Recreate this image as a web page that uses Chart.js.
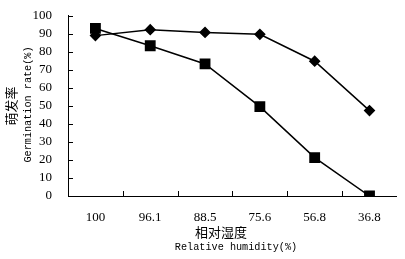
<!DOCTYPE html>
<html>
<head>
<meta charset="utf-8">
<script src="https://cdn.jsdelivr.net/npm/chart.js@4"></script>
<style>
  html, body { margin: 0; padding: 0; background: #fff; }
  #wrap { width: 405px; height: 259px; }
</style>
</head>
<body>
<div id="wrap"><canvas id="germination"></canvas></div>
<script>
const humidity = ["100", "96.1", "88.5", "75.6", "56.8", "36.8"];
const diamondRates = [89, 92.3, 90.8, 89.7, 74.8, 47.4];
const squareRates = [93, 83.4, 73.3, 49.6, 21.3, 0];
const yTicks = [0, 10, 20, 30, 40, 50, 60, 70, 80, 90, 100];

const xTitleCn = "相对湿度";
const xTitleEn = "Relative humidity(%)";
const yTitleCn = "萌发率";
const yTitleEn = "Germination rate(%)";

// short ticks pointing into the plot, plus the axis titles
const innerTicks = {
    id: "innerTicks",
    afterDraw(chart) {
        const ctx = chart.ctx;
        const x = chart.scales.x;
        const y = chart.scales.y;
        const area = chart.chartArea;
        ctx.save();
        ctx.strokeStyle = "#000";
        ctx.lineWidth = 1;
        ctx.beginPath();
        for (let i = 1; i < humidity.length; i++) {
            const px = Math.round((x.getPixelForTick(i - 1) + x.getPixelForTick(i)) / 2) + 0.5;
            ctx.moveTo(px, area.bottom);
            ctx.lineTo(px, area.bottom - 5);
        }
        yTicks.forEach(v => {
            if (v === 0) return;
            const py = Math.round(y.getPixelForValue(v)) + 0.5;
            ctx.moveTo(area.left, py);
            ctx.lineTo(area.left + 5, py);
        });
        ctx.stroke();

        ctx.fillStyle = "#000";
        ctx.textAlign = "center";
        ctx.textBaseline = "middle";
        ctx.font = "13px 'Noto Sans CJK SC'";
        ctx.fillText(xTitleCn, 221, 232);
        ctx.font = "10.2px 'Liberation Mono'";
        ctx.fillText(xTitleEn, 236, 247);

        ctx.save();
        ctx.translate(11, 106);
        ctx.rotate(-Math.PI / 2);
        ctx.font = "13px 'Noto Sans CJK SC'";
        ctx.fillText(yTitleCn, 0, 0);
        ctx.restore();
        ctx.save();
        ctx.translate(28, 104.5);
        ctx.rotate(-Math.PI / 2);
        ctx.font = "10.2px 'Liberation Mono'";
        ctx.fillText(yTitleEn, 0, 0);
        ctx.restore();
        ctx.restore();
    }
};

const ctx = document.getElementById("germination").getContext("2d");

new Chart(ctx, {
    type: 'line',
    data: {
        labels: humidity,
        datasets: [{
            label: 'A',
            data: squareRates,
            borderColor: '#000',
            backgroundColor: '#000',
            borderWidth: 1.5,
            pointStyle: 'rect',
            pointRadius: 6.6,
            pointHoverRadius: 6.6,
            order: 0
        }, {
            label: 'B',
            data: diamondRates,
            borderColor: '#000',
            backgroundColor: '#000',
            borderWidth: 1.5,
            pointStyle: 'rectRot',
            pointRadius: 4.8,
            pointHoverRadius: 4.8,
            order: 1
        }]
    },
    options: {
        responsive: true,
        maintainAspectRatio: false,
        animation: false,
        layout: {
            padding: { top: 11, right: 6, left: 0, bottom: 0 }
        },
        plugins: {
            legend: { display: false },
            tooltip: { enabled: false }
        },
        scales: {
            x: {
                offset: true,
                grid: { display: false, offset: true },
                border: { display: true, color: '#000', width: 1 },
                ticks: {
                    color: '#000',
                    padding: 6,
                    font: { family: "'Liberation Serif'", size: 13 }
                },
                afterFit(scale) { scale.height = 63; }
            },
            y: {
                min: 0,
                max: 100,
                grid: { display: false },
                border: { display: true, color: '#000', width: 1 },
                afterBuildTicks(scale) {
                    scale.ticks = yTicks.map(v => ({ value: v }));
                },
                ticks: {
                    color: '#000',
                    padding: 8,
                    autoSkip: false,
                    font: { family: "'Liberation Serif'", size: 13 }
                },
                afterFit(scale) { scale.width = 68; }
            }
        }
    },
    plugins: [innerTicks]
});
</script>
</body>
</html>
